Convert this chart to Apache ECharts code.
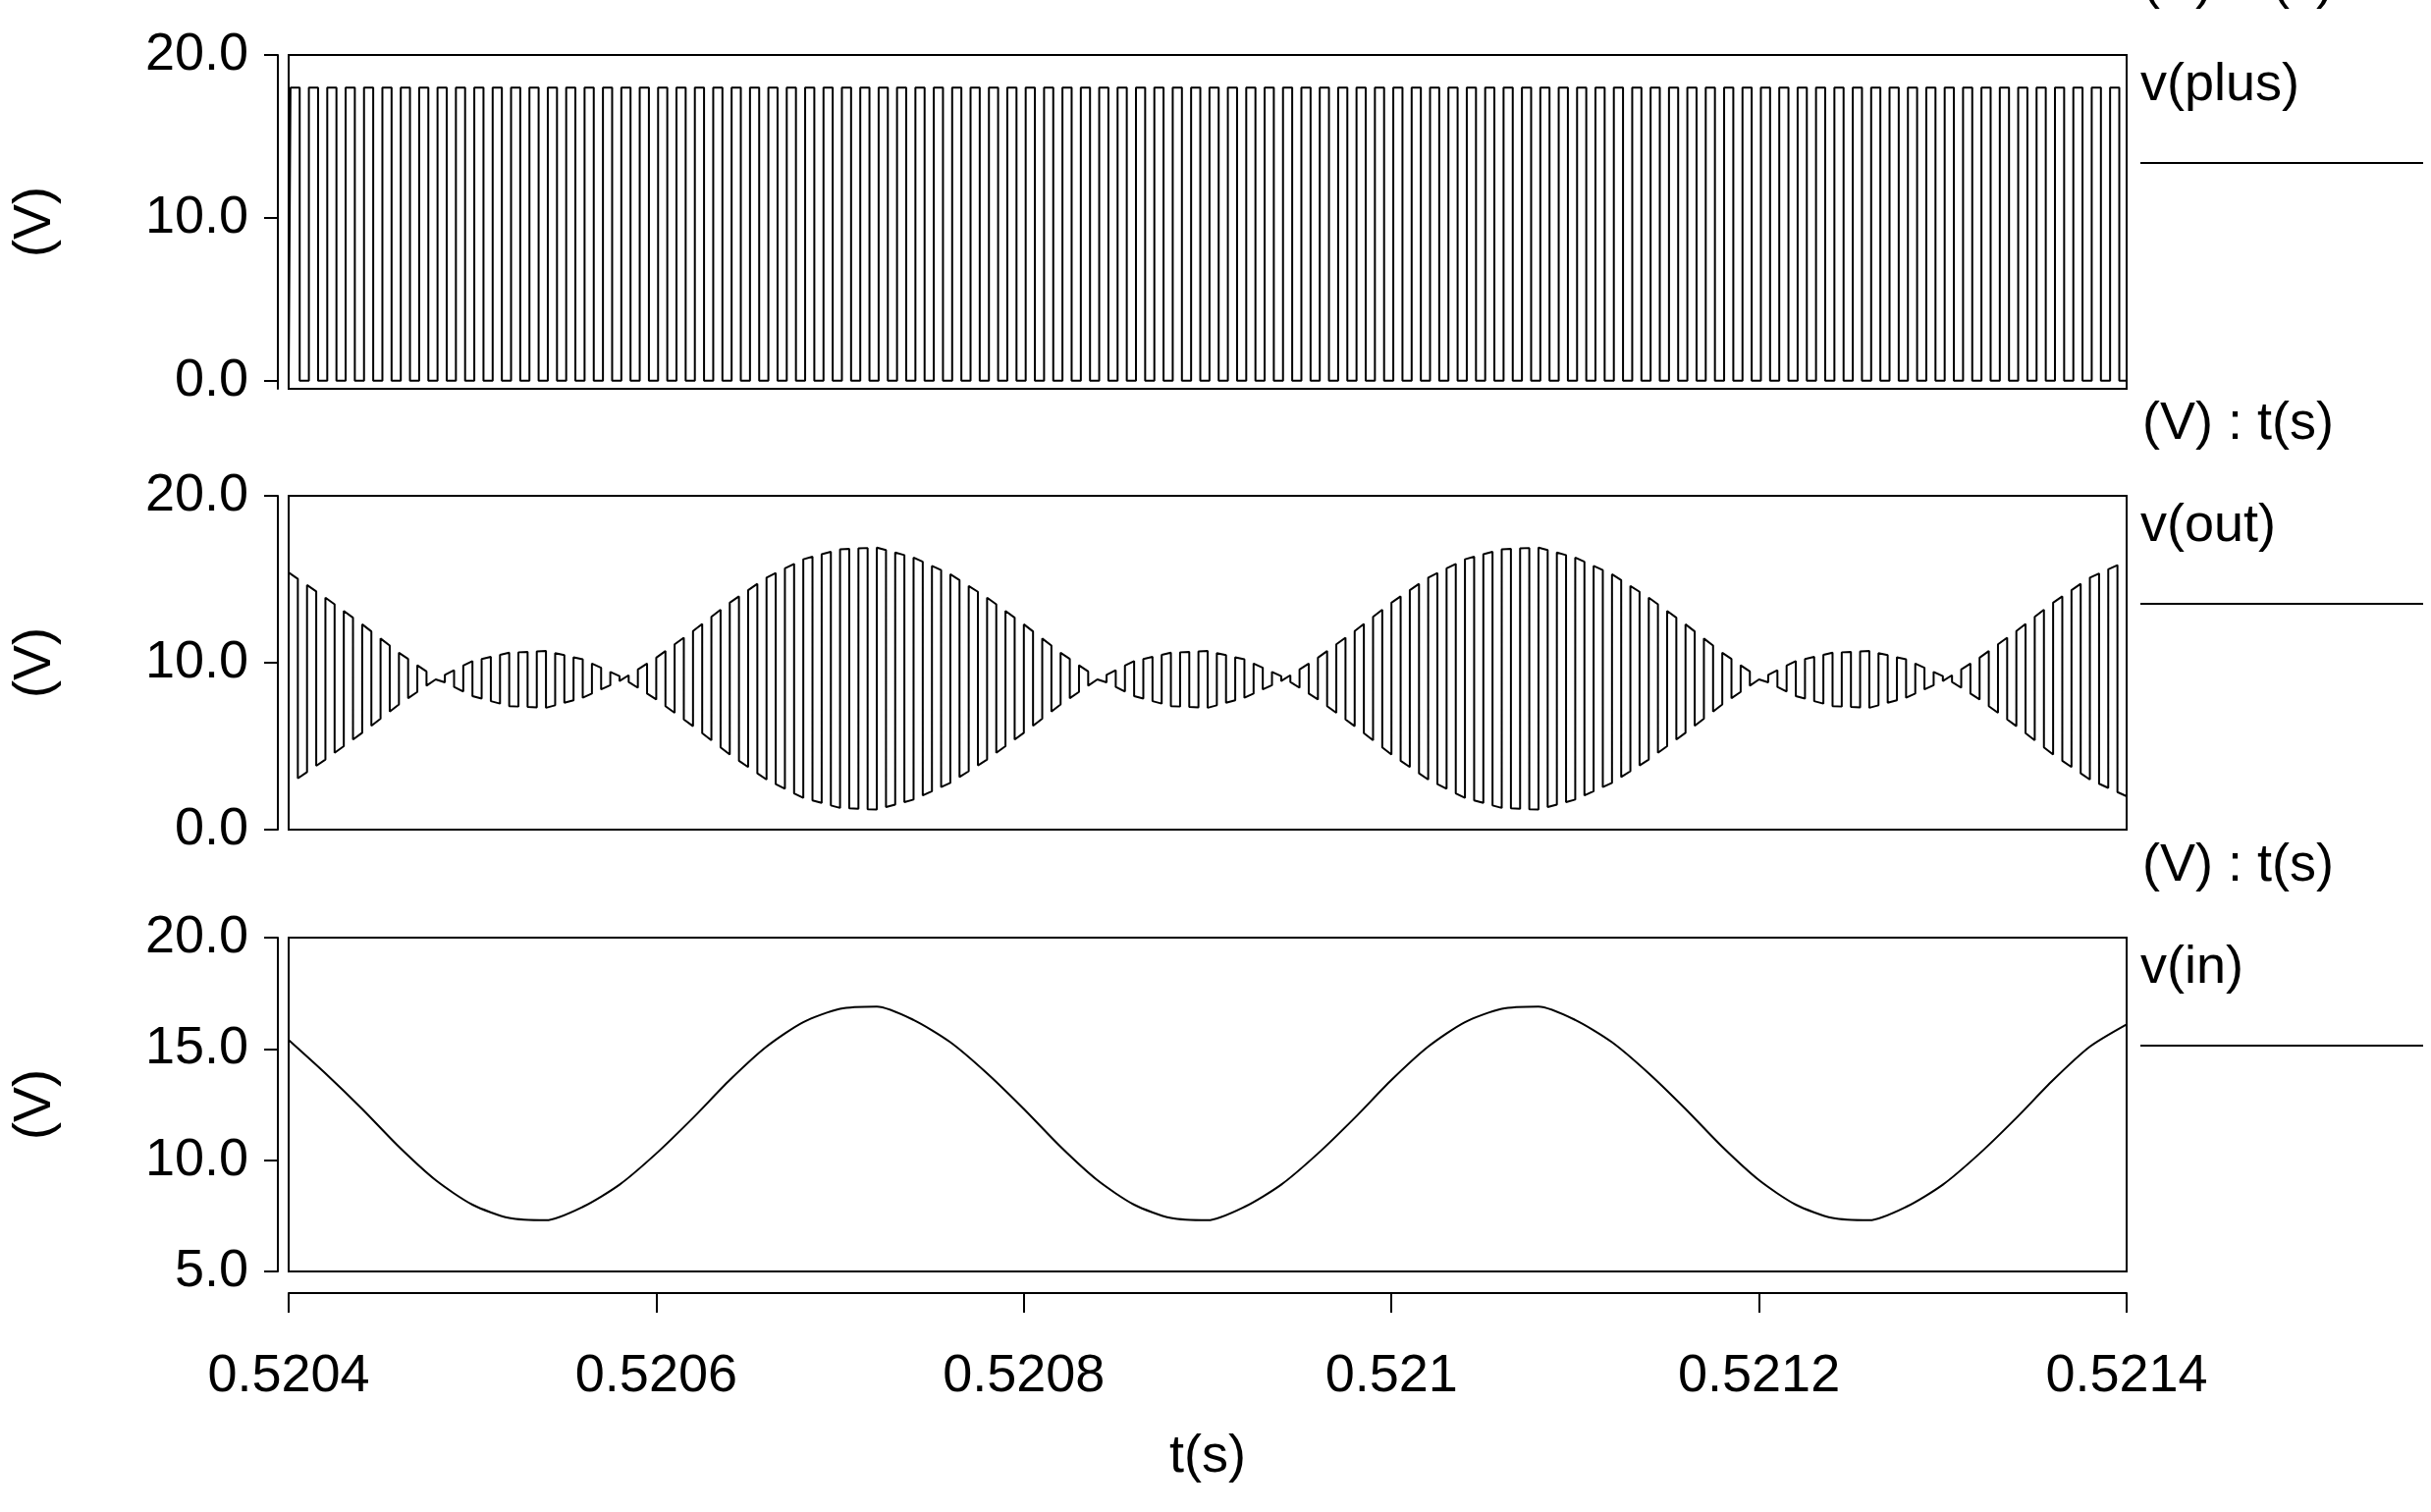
<!DOCTYPE html>
<html><head><meta charset="utf-8">
<script src="https://cdn.jsdelivr.net/npm/echarts@6/dist/echarts.min.js"></script>
<style>html,body{margin:0;padding:0;background:#fff}#c{width:2476px;height:1540px}</style>
</head><body><div id="c"></div>
<script>
// ---- data ----
const tStart = 0.5204, tEnd = 0.5214, sampleStep = 0.00002;
const xTicks = [0.5204, 0.5206, 0.5208, 0.521, 0.5212, 0.5214];
const yTicksTop = [0, 10, 20];
const yTicksMid = [0, 10, 20];
const yTicksBot = [5, 10, 15, 20];
// v(in) sampled every 20 us from 0.5204 s
const vin = [15.4,13.9,12.3,10.6,9.1,8.0,7.4,7.3,7.9,8.9,10.3,11.9,13.6,15.1,16.2,16.8,16.9,16.3,15.3,13.9,12.3,10.6,9.1,8.0,7.4,7.3,7.9,8.9,10.3,11.9,13.6,15.1,16.2,16.8,16.9,16.3,15.3,13.9,12.3,10.6,9.1,8.0,7.4,7.3,7.9,8.9,10.3,11.9,13.6,15.1,16.1];
// v(out) complementary level, same sample grid
const outLow = [2.7,4.2,5.8,7.5,9.0,10.1,10.6,10.7,10.2,9.2,7.8,6.2,4.5,3.0,1.9,1.3,1.2,1.8,2.8,4.2,5.8,7.5,9.0,10.1,10.6,10.7,10.2,9.2,7.8,6.2,4.5,3.0,1.9,1.3,1.2,1.8,2.8,4.2,5.8,7.5,9.0,10.1,10.6,10.7,10.2,9.2,7.8,6.2,4.5,3.0,2.0];
const pulsePeriods = 100;   // switching periods in the 1 ms window
const plusHigh = 18, plusLow = 0;
const labels = ['v(plus)', 'v(out)', 'v(in)'];

// ---- build series ----
function lookup(arr, t){
  const f = (t - tStart) / sampleStep;
  const i = Math.max(0, Math.min(Math.floor(f), arr.length - 2));
  const r = f - i;
  return arr[i] * (1 - r) + arr[i + 1] * r;
}
const P = (tEnd - tStart) / pulsePeriods;
const plusData = [], outData = [], vinData = [];
plusData.push([tStart, plusLow]);
for (let k = 0; k < pulsePeriods; k++) {
  const t = tStart + k * P;
  plusData.push([t + 0.1 * P, plusLow], [t + 0.1 * P, plusHigh], [t + 0.6 * P, plusHigh], [t + 0.6 * P, plusLow]);
  const tb = Math.min(t + P, tEnd);
  outData.push([t, lookup(vin, t)], [t + 0.5 * P, lookup(vin, t + 0.5 * P)],
               [t + 0.5 * P, lookup(outLow, t + 0.5 * P)], [tb, lookup(outLow, tb)]);
}
plusData.push([tEnd, plusLow]);
vin.forEach((v, i) => vinData.push([tStart + i * sampleStep, v]));

const FONT = 'Liberation Sans';
const FS = 54;
const tops = [56, 505, 955], H = 340;
const grids = tops.map(t => ({left: 294, width: 1872, top: t, height: H, show: true, borderColor: '#000', borderWidth: 2, backgroundColor: 'transparent'}));
const xAxes = [0, 1, 2].map(i => ({
  type: 'value', gridIndex: i, min: tStart, max: tEnd, interval: 0.0002,
  show: i === 2, position: 'bottom', offset: 22,
  axisLine: {show: true, lineStyle: {color: '#000', width: 2}},
  axisTick: {show: true, length: 20, lineStyle: {color: '#000', width: 2}},
  axisLabel: {fontFamily: FONT, fontSize: FS, color: '#000', margin: 58,
    customValues: xTicks, formatter: v => String(+v.toFixed(4))},
  splitLine: {show: false},
  name: 't(s)', nameLocation: 'middle', nameGap: 140,
  nameTextStyle: {fontFamily: FONT, fontSize: FS, color: '#000'}
}));
function yAx(i, min, max, ticks){
  return {type: 'value', gridIndex: i, min, max, offset: 11,
    axisLine: {show: true, lineStyle: {color: '#000', width: 2}},
    axisTick: {show: true, length: 14, customValues: ticks, lineStyle: {color: '#000', width: 2}},
    axisLabel: {fontFamily: FONT, fontSize: FS, color: '#000', margin: 30, customValues: ticks, formatter: v => v.toFixed(1)},
    splitLine: {show: false},
    name: '(V)', nameLocation: 'middle', nameGap: 220, nameRotate: 90,
    nameTextStyle: {fontFamily: FONT, fontSize: FS, color: '#000'}};
}
const yAxes = [yAx(0, -0.5, 20, yTicksTop), yAx(1, 0, 20, yTicksMid), yAx(2, 5, 20, yTicksBot)];
const ls = {color: '#000', width: 2};
const series = [plusData, outData, vinData].map((d, i) => ({
  type: 'line', xAxisIndex: i, yAxisIndex: i, data: d, showSymbol: false, animation: false,
  lineStyle: ls, silent: true, clip: true, smooth: i === 2 ? 0.25 : false
}));
const graphic = [];
tops.forEach((t, i) => {
  graphic.push({type: 'text', left: 2180, top: t + 4, style: {text: labels[i], font: FS + 'px ' + FONT, fill: '#000'}});
  graphic.push({type: 'line', shape: {x1: 2180, y1: t + 110, x2: 2468, y2: t + 110}, style: {stroke: '#000', lineWidth: 2}});
  if (i > 0) graphic.push({type: 'text', left: 2182, top: t - 100, style: {text: '(V) : t(s)', font: FS + 'px ' + FONT, fill: '#000'}});
});
graphic.push({type: 'text', left: 2182, top: -44, style: {text: '(V) : t(s)', font: FS + 'px ' + FONT, fill: '#000'}});
const chart = echarts.init(document.getElementById('c'), null, {renderer: 'canvas'});
chart.setOption({animation: false, backgroundColor: '#fff', grid: grids, xAxis: xAxes, yAxis: yAxes, series, graphic});
</script></body></html>
